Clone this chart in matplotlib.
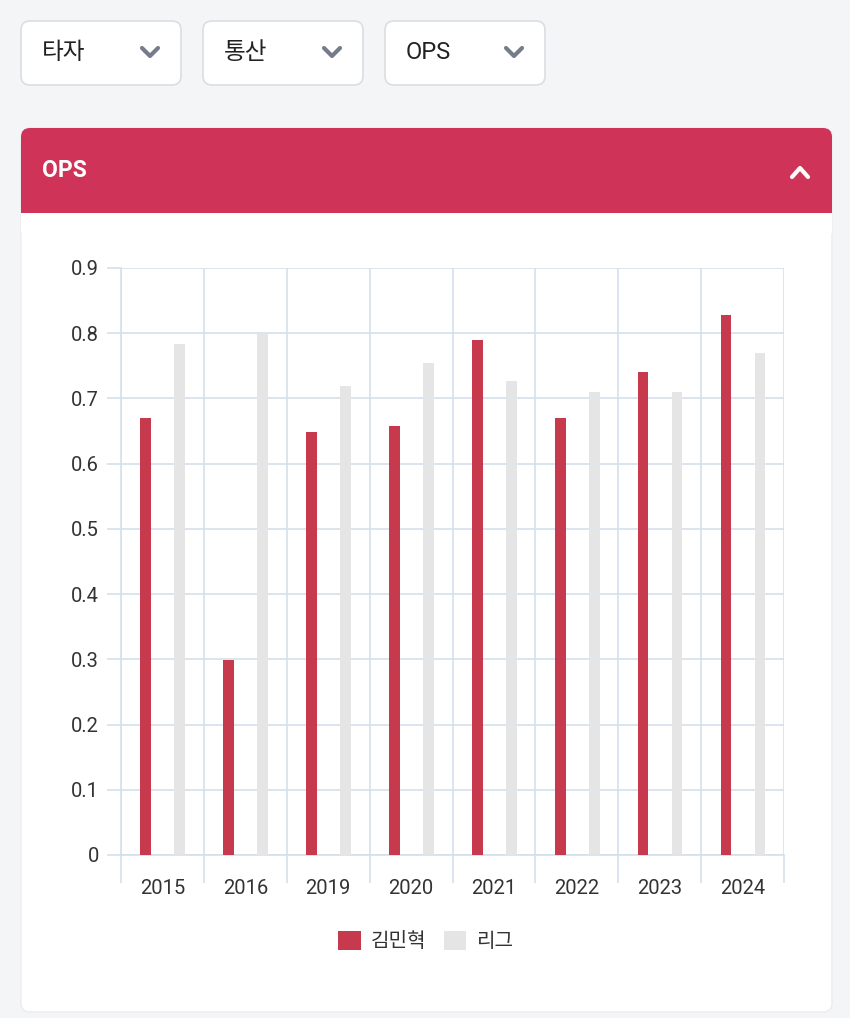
import matplotlib
matplotlib.use("Agg")
import matplotlib.pyplot as plt
from matplotlib.patches import FancyBboxPatch, Rectangle
import numpy as np

# data
years = ["2015", "2016", "2019", "2020", "2021", "2022", "2023", "2024"]
player_ops = [0.670, 0.299, 0.649, 0.658, 0.790, 0.670, 0.740, 0.828]
league_ops = [0.783, 0.799, 0.719, 0.754, 0.727, 0.710, 0.710, 0.770]
series_names = ["김민혁", "리그"]
dropdowns = ["타자", "통산", "OPS"]
yticks = [0, 0.1, 0.2, 0.3, 0.4, 0.5, 0.6, 0.7, 0.8, 0.9]

RED = "#c73a4e"
GRAY = "#e5e5e5"
HEADER = "#cf3358"
GRID = "#d3e0ec"
FONT = ["Roboto", "Noto Sans CJK KR", "DejaVu Sans"]
plt.rcParams["font.family"] = FONT

W, H = 850, 1018
fig = plt.figure(figsize=(W / 100, H / 100), dpi=100)
fig.patch.set_facecolor("#f4f5f7")

# background axes in pixel coords for the UI bits
bg = fig.add_axes([0, 0, 1, 1])
bg.set_xlim(0, W)
bg.set_ylim(H, 0)
bg.axis("off")

# dropdown boxes
for i, label in enumerate(dropdowns):
    x0 = 21 + i * 182
    bg.add_patch(FancyBboxPatch((x0, 21), 160, 64, boxstyle="round,pad=0,rounding_size=9",
                                fc="white", ec="#dcdde0", lw=1.2))
    bg.text(x0 + 21, 52, label, fontsize=17, color="#222222", va="center", ha="left")
    cx = x0 + 129
    bg.plot([cx - 8, cx, cx + 8], [48, 56, 48], color="#767c8a", lw=3,
            solid_capstyle="round", solid_joinstyle="round")

# card
bg.add_patch(FancyBboxPatch((21, 128), 811, 884, boxstyle="round,pad=0,rounding_size=9",
                            fc="white", ec="#ececef", lw=1))
bg.add_patch(FancyBboxPatch((21, 128), 811, 100, boxstyle="round,pad=0,rounding_size=9",
                            fc=HEADER, ec="none"))
bg.add_patch(Rectangle((21, 213), 811, 20, fc="white", ec="none"))
bg.text(42, 170, "OPS", fontsize=16.5, fontweight="semibold", color="white", va="center", ha="left")
bg.plot([792, 800, 808], [177, 168, 177], color="white", lw=3,
        solid_capstyle="round", solid_joinstyle="round")

# chart axes
ax = fig.add_axes([121 / W, 1 - 855 / H, (784 - 121) / W, (855 - 268) / H])
x = np.arange(len(years))
bw = 0.13
ax.bar(x - 0.2, player_ops, width=bw, color=RED, label=series_names[0], zorder=3)
ax.bar(x + 0.21, league_ops, width=bw, color=GRAY, label=series_names[1], zorder=3)

ax.set_xlim(-0.5, len(years) - 0.5)
ax.set_ylim(0, 0.9)
ax.set_yticks(yticks)
ax.set_yticklabels(["0" if v == 0 else f"{v:.1f}" for v in yticks])
ax.set_xticks(np.arange(-0.5, len(years)))
ax.set_xticklabels([])
ax.set_xticks(x, minor=True)
ax.set_xticklabels(years, minor=True)
ax.tick_params(axis="x", which="major", length=20, color=GRID, width=1.2)
ax.tick_params(axis="x", which="minor", length=0, pad=17, labelsize=14.5, labelcolor="#333333")
ax.tick_params(axis="y", length=10, color=GRID, width=1.2, pad=6, labelsize=14.5, labelcolor="#333333")
ax.grid(True, which="major", color=GRID, lw=1.2, zorder=0)
for s in ["top", "right"]:
    ax.spines[s].set_visible(False)
for s in ["left", "bottom"]:
    ax.spines[s].set_color(GRID)
    ax.spines[s].set_linewidth(1.2)
ax.set_facecolor("white")

# legend, centred on the card
leg = fig.legend(*ax.get_legend_handles_labels(), loc="center",
                 bbox_to_anchor=(426 / W, 1 - 941 / H), ncol=2, frameon=False,
                 fontsize=14.5, handlelength=1.1, handleheight=1.1, columnspacing=0.9,
                 handletextpad=0.5)
for t in leg.get_texts():
    t.set_color("#333333")

fig.savefig("out.png", dpi=100, facecolor=fig.get_facecolor())
